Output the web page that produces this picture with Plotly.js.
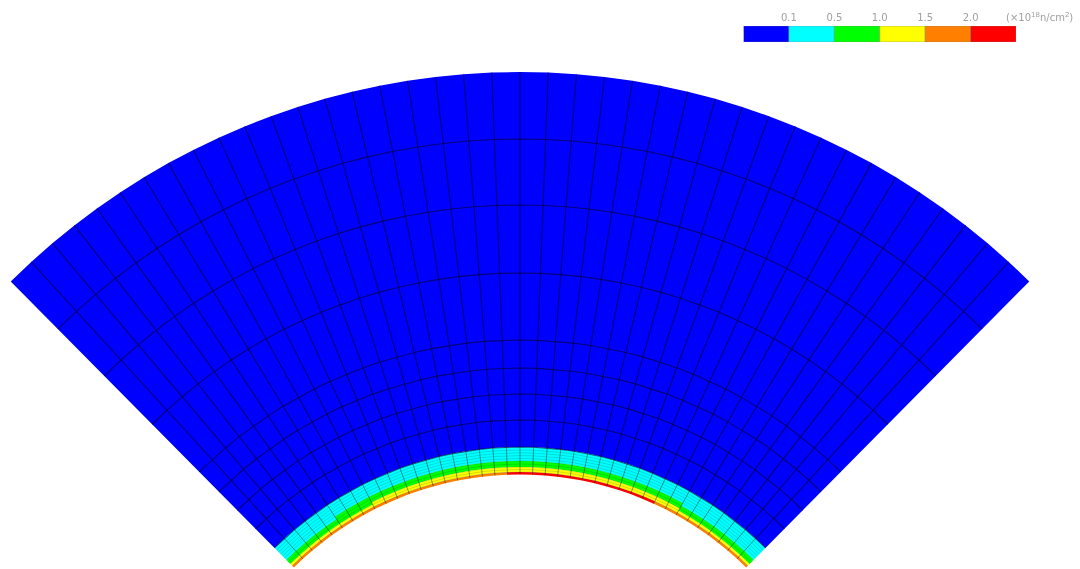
<!DOCTYPE html>
<html>
<head>
<meta charset="utf-8">
<script src="https://cdn.plot.ly/plotly-3.0.1.min.js"></script>
<style>html,body{margin:0;padding:0;background:#fff;overflow:hidden}#chart{width:1080px;height:569px;filter:blur(0.5px)}</style>
</head>
<body>
<div id="chart"></div>
<script>
// Fluence scale
const levelLabels = ['0.1', '0.5', '1.0', '1.5', '2.0'];
const levelColors = ['#0000ff', '#00ffff', '#00ff00', '#ffff00', '#ff8000', '#ff0000'];
const unitLabel = '(×10<sup>18</sup>n/cm<sup>2</sup>)';

// Mesh, in picture units measured from the centre of curvature
const sectorStartDeg = -44.7;
const cellAngleDeg = 2.235;
const blueRadii = [724, 657, 591, 523, 456, 428, 402, 376, 349];
const ringRadii = [349, 346, 343.2, 340.4, 337.6, 335, 332, 329, 326.5, 324, 321.5];

// Number of ring layers per band, one entry per column, left to right
const cyanLayers = [6,6,6,6,6, 5,5,5, 5,5,5,5,5,5,5,5,5,5,5, 5, 5,5,5,5,5,5,5,5,5,5,5, 5,5, 6,6,6,6,6,6,6];
const greenLayers = [2,2,2,2,2, 3,3,3, 2,2,2,2,2,2,2,2,2,2,2, 2, 2,2,2,2,2,2,2,2,2,2,2, 2,2, 2,2,2,2,2,2,2];
const yellowLayers = [1,1,1,1,1, 1,1,1, 2,2,2,2,2,2,2,2,2,2,2, 2, 2,2,2,2,2,2,2,2,2,2,2, 2,2, 1,1,1,1,1,1,1];
// Colour level of the innermost layer per column: 4 = orange, 5 = red
const innerLevel = [4,4,4,4,4, 4,4,4, 4,4,4,4,4,4,4,4,4,4,4, 5, 5,5,5,5,5,5,5,5,5,5,5, 4,4, 4,4,4,4,4,4,4];

const columns = cyanLayers.length;
const pt = (r, deg) => {
  const a = deg * Math.PI / 180;
  return [r * Math.sin(a), r * Math.cos(a)];
};
const angleAt = i => sectorStartDeg + i * cellAngleDeg;

const fills = levelColors.map(() => ({x: [], y: []}));
function addCell(level, r0, r1, i) {
  const a0 = angleAt(i), a1 = angleAt(i + 1);
  [pt(r0, a0), pt(r0, a1), pt(r1, a1), pt(r1, a0), pt(r0, a0)].forEach(p => {
    fills[level].x.push(p[0]); fills[level].y.push(p[1]);
  });
  fills[level].x.push(null); fills[level].y.push(null);
}
for (let i = 0; i < columns; i++) {
  addCell(0, blueRadii[0], blueRadii[blueRadii.length - 1], i);
  const c = cyanLayers[i], g = greenLayers[i], y = yellowLayers[i];
  for (let k = 0; k < ringRadii.length - 1; k++) {
    let level = innerLevel[i];
    if (k < c) level = 1; else if (k < c + g) level = 2; else if (k < c + g + y) level = 3;
    addCell(level, ringRadii[k], ringRadii[k + 1], i);
  }
}

function arcLines(radii) {
  const x = [], y = [];
  radii.forEach(r => {
    for (let i = 0; i <= columns; i++) { const p = pt(r, angleAt(i)); x.push(p[0]); y.push(p[1]); }
    x.push(null); y.push(null);
  });
  return {x, y};
}
function radialLines(rOuter, rInner) {
  const x = [], y = [];
  for (let i = 1; i < columns; i++) {
    const p = pt(rOuter, angleAt(i)), q = pt(rInner, angleAt(i));
    x.push(p[0], q[0], null); y.push(p[1], q[1], null);
  }
  return {x, y};
}

const traces = fills.map((f, n) => ({
  type: 'scatter', mode: 'lines', x: f.x, y: f.y, fill: 'toself', fillcolor: levelColors[n],
  line: {width: 0, color: levelColors[n]}, hoverinfo: 'skip', showlegend: false
}));
const mainArcs = arcLines(blueRadii.slice(1));
const fineArcs = arcLines(ringRadii.slice(1, -1));
const radBlue = radialLines(blueRadii[0], ringRadii[0]);
const radRing = radialLines(ringRadii[0], ringRadii[ringRadii.length - 1]);
const gridTrace = (g, w, c) => ({type: 'scatter', mode: 'lines', x: g.x, y: g.y,
  line: {width: w, color: c}, hoverinfo: 'skip', showlegend: false});
traces.push(gridTrace(fineArcs, 0.7, 'rgba(0,60,60,0.25)'));
traces.push(gridTrace(radRing, 0.9, 'rgba(0,30,30,0.5)'));
traces.push(gridTrace(mainArcs, 1.1, 'rgba(0,0,50,0.65)'));
traces.push(gridTrace(radBlue, 1.1, 'rgba(0,0,50,0.65)'));

// Colour key
traces.push({
  type: 'bar', xaxis: 'x2', yaxis: 'y2',
  x: levelColors.map((c, i) => i + 0.5), y: levelColors.map(() => 1), width: levelColors.map(() => 1),
  marker: {color: levelColors, line: {color: 'rgba(120,120,120,0.4)', width: 1}},
  hoverinfo: 'skip', showlegend: false
});

const layout = {
  width: 1080, height: 569,
  margin: {l: 0, r: 0, t: 0, b: 0},
  paper_bgcolor: '#fff', plot_bgcolor: 'rgba(0,0,0,0)',
  font: {family: 'DejaVu Sans', color: '#a0a0a0', size: 10},
  xaxis: {range: [-520, 560], visible: false, domain: [0, 1], fixedrange: true},
  yaxis: {range: [227, 796], visible: false, domain: [0, 1], fixedrange: true},
  xaxis2: {
    domain: [743.5 / 1080, 1016 / 1080], anchor: 'y2', side: 'top', range: [0, 6],
    tickmode: 'array', tickvals: levelLabels.map((l, i) => i + 1), ticktext: levelLabels,
    ticks: '', showgrid: false, zeroline: false, showline: false, ticklabelstandoff: 2,
    tickfont: {family: 'DejaVu Sans', color: '#a0a0a0', size: 10}, fixedrange: true
  },
  yaxis2: {domain: [1 - 42 / 569, 1 - 26 / 569], anchor: 'x2', range: [0, 1], visible: false, fixedrange: true},
  annotations: [{
    xref: 'paper', yref: 'paper', x: 1039.5 / 1080, y: 1 - 17 / 569, xanchor: 'center', yanchor: 'middle',
    text: unitLabel, showarrow: false, font: {family: 'DejaVu Sans', color: '#a0a0a0', size: 10}
  }],
  bargap: 0, showlegend: false
};
Plotly.newPlot('chart', traces, layout, {displayModeBar: false, staticPlot: true});
</script>
</body>
</html>
